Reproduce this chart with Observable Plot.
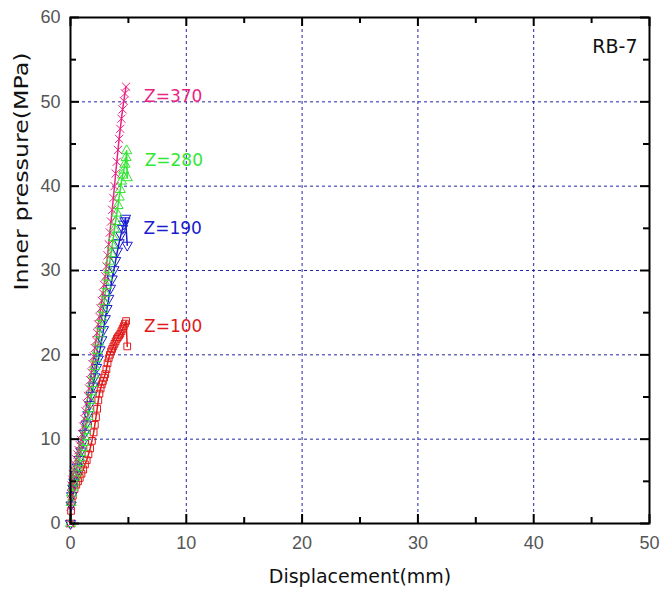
<!DOCTYPE html>
<html>
<head>
<meta charset="utf-8">
<script src="https://cdn.jsdelivr.net/npm/d3@7"></script>
<script src="https://cdn.jsdelivr.net/npm/@observablehq/plot@0.6"></script>
<style>
  html, body { margin: 0; padding: 0; background: #fff; }
</style>
</head>
<body>
<div id="chart"></div>
<script>
// ---- data ----
const seriesNames = ["Z=100", "Z=190", "Z=280", "Z=370"];

const redX = [0,0.05,0.1,0.2,0.35,0.5,0.65,0.8,0.95,1.1,1.25,1.4,1.55,1.7,1.85,2.0,2.1,2.2,2.3,2.4,2.5,2.6,2.7,2.8,2.9,3.0,3.1,3.2,3.3,3.4,3.5,3.6,3.7,3.8,3.9,4.0,4.1,4.2,4.3,4.4,4.5,4.6,4.7,4.8,4.9];
const redY = [0,1.5,2.5,3.3,4.1,4.6,5.0,5.4,5.9,6.4,7.0,7.5,8.2,8.9,9.8,10.8,11.7,12.6,13.6,14.6,15.4,16.0,16.5,16.9,17.3,17.7,18.3,19.0,19.6,20.0,20.4,20.7,21.0,21.3,21.6,21.9,22.1,22.3,22.5,22.8,23.1,23.4,23.7,24.0,21.0];

const blueX = [0,0.05,0.1,0.2,0.3,0.45,0.6,0.75,0.9,1.05,1.2,1.35,1.5,1.65,1.8,1.95,2.1,2.25,2.4,2.55,2.7,2.85,3.0,3.15,3.3,3.45,3.6,3.75,3.9,4.05,4.2,4.35,4.5,4.6,4.7,4.75,4.9];
const blueY = [0,2.2,3.3,4.2,4.9,5.8,6.7,7.6,8.6,9.6,10.7,11.8,12.9,14.1,15.2,16.3,17.4,18.5,19.5,20.6,21.8,23.0,24.3,25.5,26.7,27.9,29.0,30.1,31.2,32.3,33.3,34.2,35.0,35.5,35.9,36.2,33.0];

const greenX = [0,0.05,0.1,0.2,0.3,0.4,0.5,0.6,0.7,0.8,0.9,1.0,1.1,1.2,1.3,1.4,1.5,1.6,1.7,1.8,1.9,2.0,2.1,2.2,2.3,2.4,2.5,2.6,2.7,2.8,2.9,3.0,3.1,3.2,3.3,3.4,3.5,3.6,3.7,3.8,3.9,4.0,4.1,4.2,4.3,4.4,4.5,4.6,4.7,4.8,4.85,4.9];
const greenY = [0,2.5,3.6,4.3,4.9,5.5,6.0,6.6,7.2,7.8,8.4,9.0,9.6,10.3,11.0,11.8,12.7,13.6,14.6,15.6,16.6,17.6,18.6,19.6,20.5,21.5,22.5,23.5,24.4,25.4,26.3,27.3,28.2,29.2,30.1,31.1,32.0,33.0,33.9,34.9,35.8,36.8,37.7,38.7,39.6,40.6,41.3,41.9,42.6,43.4,44.2,41.0];

const pinkX = [0,0.02,0.05,0.1,0.15,0.22,0.3,0.4,0.5,0.6,0.7,0.8,0.9,1.0,1.1,1.2,1.3,1.4,1.5,1.6,1.7,1.8,1.9,2.0,2.1,2.2,2.3,2.4,2.5,2.6,2.7,2.8,2.9,3.0,3.1,3.2,3.3,3.4,3.5,3.6,3.7,3.8,3.9,4.0,4.1,4.2,4.3,4.4,4.5,4.6,4.7,4.8];
const pinkY = [0,2.0,3.5,4.5,5.2,5.8,6.3,7.0,7.6,8.2,8.7,9.3,9.9,10.6,11.5,12.4,13.3,14.2,15.1,16.0,17.0,17.9,18.9,19.8,20.8,21.7,22.6,23.6,24.5,25.5,26.4,27.3,28.3,29.3,30.5,31.8,33.1,34.5,35.8,37.2,38.6,40.0,41.5,42.9,44.3,45.6,46.8,48.0,49.1,50.1,51.0,51.8];

const xTicks = [0, 10, 20, 30, 40, 50];
const yTicks = [0, 10, 20, 30, 40, 50, 60];
const xMinor = [5, 15, 25, 35, 45];
const yMinor = [5, 15, 25, 35, 45, 55];
const xGrid = [10, 20, 30, 40];
const yGrid = [10, 20, 30, 40, 50];
const xTitle = "Displacement(mm)";
const yTitle = "Inner pressure(MPa)";
const specimen = "RB-7";

// ---- styles ----
const colors = ["#e01a1a", "#1a1ad0", "#33e633", "#eb2384"];
const symbols = ["square", "triangle", "triangle", "times"];

// ---- build table ----
const seriesXs = [redX, blueX, greenX, pinkX];
const seriesYs = [redY, blueY, greenY, pinkY];
const rows = [];
seriesNames.forEach((name, i) => {
  seriesXs[i].forEach((x, j) => rows.push({series: name, x, y: seriesYs[i][j]}));
});

const tickFont = "'Liberation Sans Narrow', 'Liberation Sans', Arial, sans-serif";
const textFont = "'DejaVu Sans', sans-serif";
const gridColor = "#2424a6";

const W = 660, H = 600, ML = 70, MR = 11, MT = 17, MB = 77;
const FW = W - ML - MR, FH = H - MT - MB;   // frame size in px
const MAJ = 9, MIN = 6;                      // inward tick lengths

// inward ticks: full-span tick marks inset so only a short stub at each edge remains
const tickStyle = (w) => ({stroke: "#000", strokeWidth: w, strokeOpacity: 1});
const inwardTicks = (xs, ys, len, w) => [
  Plot.tickX(xs, {x: d => d, insetTop: FH - len, ...tickStyle(w)}),      // bottom
  Plot.tickX(xs, {x: d => d, insetBottom: FH - len, ...tickStyle(w)}),   // top
  Plot.tickY(ys, {y: d => d, insetRight: FW - len, ...tickStyle(w)}),    // left
  Plot.tickY(ys, {y: d => d, insetLeft: FW - len, ...tickStyle(w)})      // right
];

const chart = Plot.plot({
  width: W,
  height: H,
  marginLeft: ML,
  marginRight: MR,
  marginTop: MT,
  marginBottom: MB,
  style: {fontFamily: textFont, background: "#fff", overflow: "visible"},
  x: {domain: [0, 50]},
  y: {domain: [0, 60]},
  color: {domain: seriesNames, range: colors},
  symbol: {domain: seriesNames, range: symbols},
  marks: [
    Plot.gridX(xGrid, {stroke: gridColor, strokeOpacity: 1, strokeWidth: 1, strokeDasharray: "3,3"}),
    Plot.gridY(yGrid, {stroke: gridColor, strokeOpacity: 1, strokeWidth: 1, strokeDasharray: "3,3"}),
    Plot.line(rows, {x: "x", y: "y", z: "series", stroke: "series", strokeWidth: 1.5}),
    Plot.dot(rows, {x: "x", y: "y", stroke: "series", symbol: "series", r: 3.8, strokeWidth: 1,
      rotate: d => d.series === "Z=190" ? 180 : 0}),
    Plot.text(rows.filter(d => d.series !== "Z=100"), Plot.selectMaxY({x: "x", y: "y", z: "series", text: "series", fill: "series",
      textAnchor: "start", dx: 18, dy: 10, fontSize: 17, fontFamily: textFont})),
    Plot.text(rows.filter(d => d.series === "Z=100"), Plot.selectMaxY({x: "x", y: "y", z: "series", text: "series", fill: "series",
      textAnchor: "start", dx: 18, dy: 5, fontSize: 17, fontFamily: textFont})),
    Plot.text([specimen], {text: d => d, frameAnchor: "top-right", textAnchor: "end", dx: -12, dy: 22,
      fontSize: 19, fontFamily: textFont, fill: "#111"}),
    // tick labels
    Plot.axisX(xTicks, {anchor: "bottom", tickSize: 0, tickPadding: 13, label: null, fontSize: 18, fontFamily: tickFont, fill: "#555"}),
    Plot.axisY(yTicks, {anchor: "left", tickSize: 0, tickPadding: 10, label: null, fontSize: 18, fontFamily: tickFont, fill: "#555"}),
    // titles
    Plot.text([xTitle], {text: d => d, frameAnchor: "bottom", dy: 59, fontSize: 19, fontFamily: textFont, fill: "#111"}),
    Plot.text([yTitle], {text: d => d, frameAnchor: "left", dx: -49, dy: 20, rotate: -90, fontSize: 19, fontFamily: textFont, fill: "#111"}),
    Plot.frame({stroke: "#000", strokeWidth: 2}),
    ...inwardTicks(xTicks, yTicks, MAJ, 2),
    ...inwardTicks(xMinor, yMinor, MIN, 2)
  ]
});

// stretch the y title to the reference length
d3.select(chart).selectAll("text").filter(function() { return this.textContent === yTitle; })
  .attr("textLength", 238).attr("lengthAdjust", "spacingAndGlyphs");

document.getElementById("chart").appendChild(chart);
</script>
</body>
</html>
